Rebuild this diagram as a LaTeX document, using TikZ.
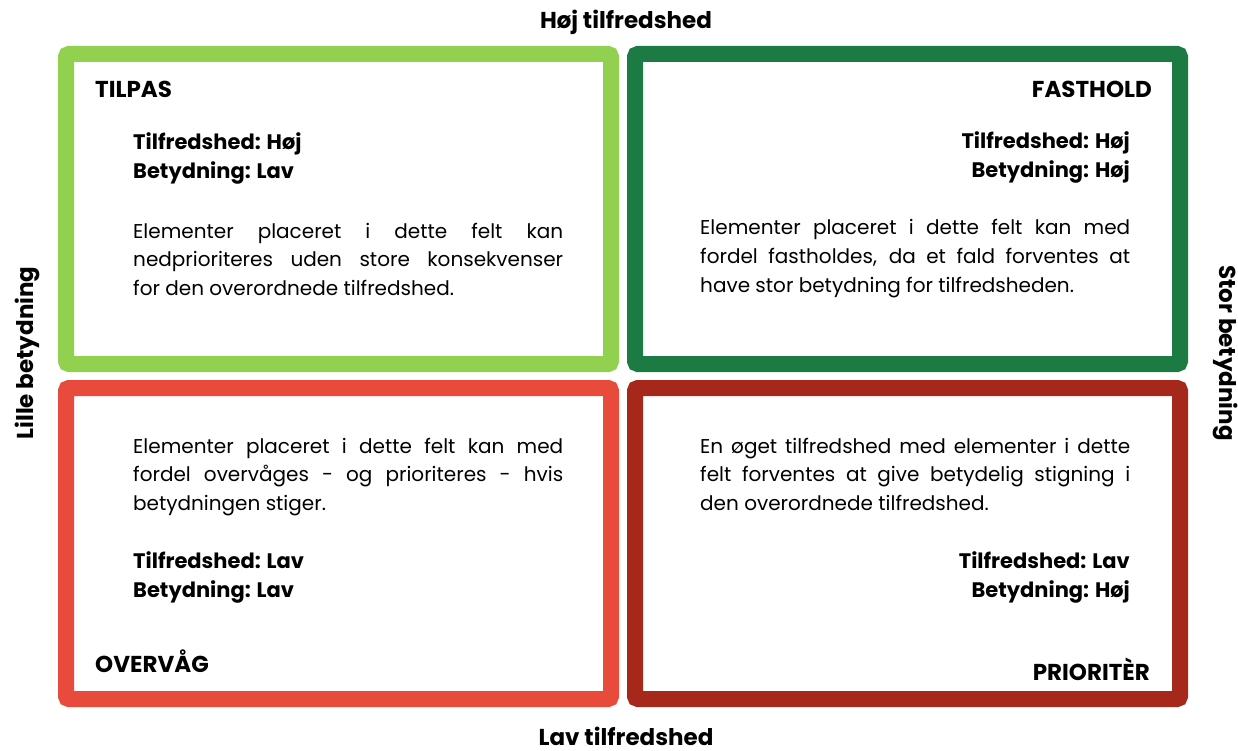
\documentclass[tikz,border=0pt]{standalone}
\usepackage{fontspec}
\setmainfont{Poppins}
\definecolor{cTL}{HTML}{92D050}
\definecolor{cTR}{HTML}{1B7B43}
\definecolor{cBL}{HTML}{E84B3C}
\definecolor{cBR}{HTML}{A5281B}
\newcommand{\jl}[1]{\makebox[430pt][s]{#1}\\}
\newcommand{\bodyfont}{\fontsize{20pt}{28.5pt}\selectfont}
\tikzset{
  quad/.style={line width=16pt, rounded corners=3pt, inner sep=0pt, minimum width=545pt, fill=white},
  ttl/.style={inner sep=0pt, font=\fontsize{23pt}{26pt}\selectfont\bfseries},
  lbl/.style={inner sep=0pt, font=\fontsize{21pt}{29pt}\selectfont\bfseries, align=left},
  lblr/.style={inner sep=0pt, font=\fontsize{21pt}{29pt}\selectfont\bfseries, align=right},
  body/.style={inner sep=0pt, font=\bodyfont},
  axis/.style={inner sep=0pt, font=\fontsize{23pt}{26pt}\selectfont\bfseries}
}
\begin{document}
\begin{tikzpicture}[x=1pt,y=-1pt]
\useasboundingbox (0,0) rectangle (1238,751);
\node[quad, draw=cTL, minimum height=310pt] (tl) at (338.5,209) {};
\node[quad, draw=cTR, minimum height=310pt] (tr) at (907.5,209) {};
\node[quad, draw=cBL, minimum height=311pt] (bl) at (338.5,543.5) {};
\node[quad, draw=cBR, minimum height=311pt] (br) at (907.5,543.5) {};

% top-left
\node[ttl, anchor=base west] (tlt) at (95,98) {TILPAS};
\node[lbl, anchor=base west] (tll1) at (133,150) {Tilfredshed: Høj};
\node[lbl, anchor=base west] (tll2) at (133,179) {Betydning: Lav};
\node[body, anchor=base west] (tlb) at (133,238) {\parbox[t]{430pt}{\bodyfont
\jl{Elementer placeret i dette felt kan}
\jl{nedprioriteres uden store konsekvenser}
for den overordnede tilfredshed.}};

% top-right
\node[ttl, anchor=base east] (trt) at (1152,98) {FASTHOLD};
\node[lblr, anchor=base east] (trl1) at (1130,149) {Tilfredshed: Høj};
\node[lblr, anchor=base east] (trl2) at (1130,178) {Betydning: Høj};
\node[body, anchor=base west] (trb) at (700,235) {\parbox[t]{430pt}{\bodyfont
\jl{Elementer placeret i dette felt kan med}
\jl{fordel fastholdes, da et fald forventes at}
have stor betydning for tilfredsheden.}};

% bottom-left
\node[body, anchor=base west] (blb) at (133,453) {\parbox[t]{430pt}{\bodyfont
\jl{Elementer placeret i dette felt kan med}
\jl{fordel overvåges - og prioriteres - hvis}
betydningen stiger.}};
\node[lbl, anchor=base west] (bll1) at (133,568) {Tilfredshed: Lav};
\node[lbl, anchor=base west] (bll2) at (133,597) {Betydning: Lav};
\node[ttl, anchor=base west] (blt) at (95,672) {OVERVÅG};

% bottom-right
\node[body, anchor=base west] (brb) at (700,453) {\parbox[t]{430pt}{\bodyfont
\jl{En øget tilfredshed med elementer i dette}
\jl{felt forventes at give betydelig stigning i}
den overordnede tilfredshed.}};
\node[lblr, anchor=base east] (brl1) at (1130,568) {Tilfredshed: Lav};
\node[lblr, anchor=base east] (brl2) at (1130,597) {Betydning: Høj};
\node[ttl, anchor=base east] (brt) at (1150,680) {PRIORITÈR};

% axis labels
\node[axis, anchor=base] (top) at (626,29) {Høj tilfredshed};
\node[axis, anchor=base] (bot) at (626,745) {Lav tilfredshed};
\node[axis, rotate=90] (left) at (27,353) {Lille betydning};
\node[axis, rotate=-90] (right) at (1226,353) {Stor betydning};
\end{tikzpicture}
\end{document}
